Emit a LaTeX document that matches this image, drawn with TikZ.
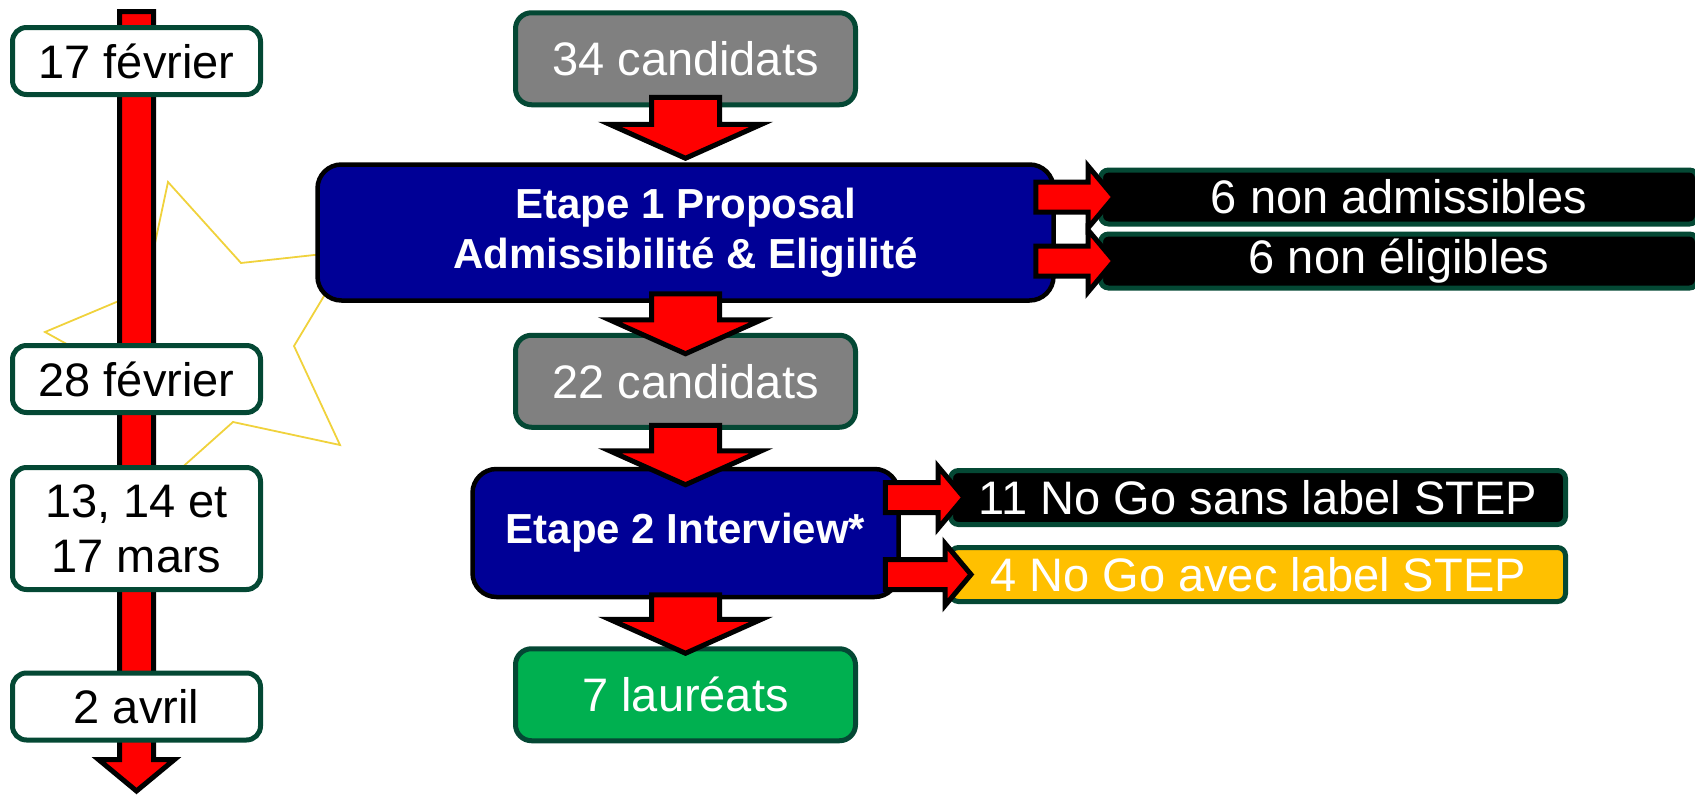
\documentclass[tikz,border=0pt]{standalone}
\usepackage{fontspec}
\setmainfont{Liberation Sans}
\usetikzlibrary{calc,positioning}

\definecolor{bordvert}{RGB}{4,72,52}
\definecolor{bleuetape}{RGB}{0,0,150}
\definecolor{gris}{RGB}{128,128,128}
\definecolor{laureat}{RGB}{0,176,80}
\definecolor{orlabel}{RGB}{255,192,0}
\definecolor{eclair}{RGB}{240,210,60}

% fat red arrow going down, from shaft top to tip
\newcommand{\blockdown}[2]{%
  \draw[fatarrow] let \p1=(#1), \p2=(#2) in
    (\x1-34pt,\y1) -- (\x1-34pt,\y2+34pt) -- (\x1-76pt,\y2+34pt) -- (\x1,\y2)
    -- (\x1+76pt,\y2+34pt) -- (\x1+34pt,\y2+34pt) -- (\x1+34pt,\y1) -- cycle;}
% fat red arrow going right
\newcommand{\blockright}[2]{%
  \draw[fatarrow] let \p1=(#1), \p2=(#2) in
    (\x1,\y1+15pt) -- (\x2-26pt,\y1+15pt) -- (\x2-26pt,\y1+31pt) -- (\x2,\y1)
    -- (\x2-26pt,\y1-31pt) -- (\x2-26pt,\y1-15pt) -- (\x1,\y1-15pt) -- cycle;}

\begin{document}
\begin{tikzpicture}[x=1pt,y=-1pt,
    fatarrow/.style={draw=black,line width=5pt,line join=miter,fill=red},
    datebox/.style={draw=bordvert,line width=5pt,fill=white,rounded corners=14pt,
      minimum width=248pt,minimum height=67pt,inner sep=0pt,align=center,
      font=\fontsize{47}{55}\selectfont},
    cand/.style={draw=bordvert,line width=5pt,fill=gris,rounded corners=16pt,
      minimum width=340pt,minimum height=92pt,inner sep=0pt,text=white,
      font=\fontsize{47}{55}\selectfont},
    etape/.style={draw=black,line width=4.5pt,fill=bleuetape,rounded corners=24pt,
      inner sep=0pt,align=center,text=white,
      font=\fontsize{42}{50}\selectfont\bfseries},
    rejet/.style={draw=bordvert,line width=5pt,fill=black,rounded corners=8pt,
      minimum height=54pt,inner sep=0pt,text=white,anchor=west,
      font=\fontsize{47}{55}\selectfont}]
\useasboundingbox (0,0) rectangle (1695,795);

% star behind step 1
\draw[eclair,line width=1.8pt,line join=miter]
  (45,332) -- (145,290) -- (168,182) -- (241,263) -- (351,251) -- (294,346)
  -- (340,445) -- (233,422) -- (140,505) -- (110,368) -- cycle;

% time line
\draw[fatarrow] (119.5,11.5) -- (119.5,759.5) -- (98.5,759.5) -- (136.5,791)
  -- (174.5,759.5) -- (153.5,759.5) -- (153.5,11.5) -- cycle;

\node[datebox] (d1) at (136.5,61) {17 février};
\node[datebox] (d2) at (136.5,379) {28 février};
\node[datebox,minimum height=122pt] (d3) at (136.5,528.5) {13, 14 et\\17 mars};
\node[datebox] (d4) at (136.5,706.5) {2 avril};

% flow
\node[etape,minimum width=736pt,minimum height=136pt] (etape1) at (685.5,232.5)
  {Etape 1 Proposal\\Admissibilité \& Eligilité};
\node[cand,above=55pt of etape1] (c34) {34 candidats};
\node[cand,below=30pt of etape1] (c22) {22 candidats};
\node[etape,minimum width=426pt,minimum height=128pt,below=37pt of c22] (etape2)
  {Etape 2 Interview*};
\node[cand,fill=laureat,below=47pt of etape2] (c7) {7 lauréats};

\node[rejet,minimum width=597pt] (na) at (1098,197) {6 non admissibles};
\node[rejet,minimum width=597pt] (ne) at (1098,261) {6 non éligibles};
\node[rejet,minimum width=615pt] (ng1) at (948,497.5) {11 No Go sans label STEP};
\node[rejet,minimum width=615pt,fill=orlabel] (ng2) at (948,574.5) {4 No Go avec label STEP};

\blockdown{$(c34.south)+(0,-10)$}{$(etape1.north)+(0,-4)$}
\blockdown{$(etape1.south)+(0,-9)$}{$(c22.north)+(0,21)$}
\blockdown{$(c22.south)+(0,-4.5)$}{$(etape2.north)+(0,18)$}
\blockdown{$(etape2.south)+(0,-4.5)$}{$(c7.north)+(0,7)$}

\blockright{$(etape1.east |- na.west)+(-20,0)$}{$(na.west)+(16,0)$}
\blockright{$(etape1.east |- ne.west)+(-20,0)$}{$(ne.west)+(16,0)$}
\blockright{$(etape2.east |- ng1.west)+(-15.5,0)$}{$(ng1.west)+(16,0)$}
\blockright{$(etape2.east |- ng2.west)+(-15.5,0)$}{$(ng2.west)+(23,0)$}
\end{tikzpicture}
\end{document}
